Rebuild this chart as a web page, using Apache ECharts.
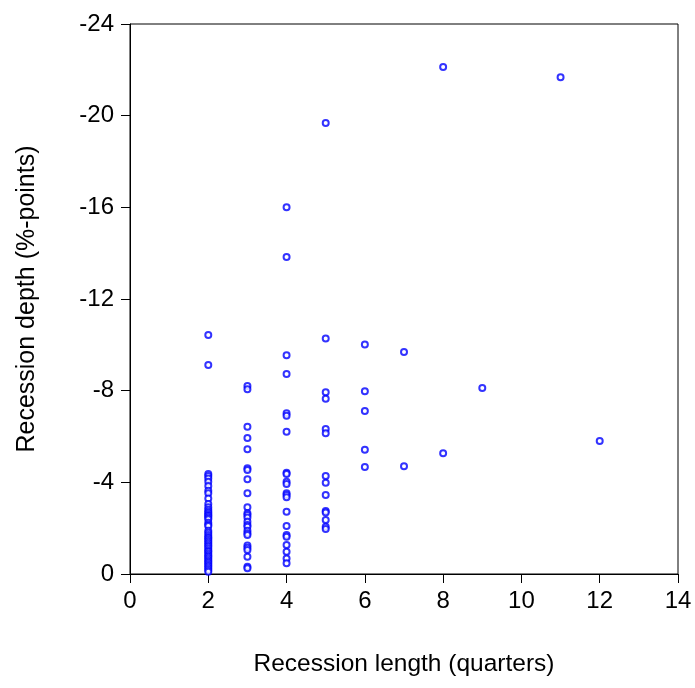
<!DOCTYPE html>
<html>
<head>
<meta charset="utf-8">
<script src="https://cdn.jsdelivr.net/npm/echarts@6/dist/echarts.min.js"></script>
<style>
  html, body { margin: 0; padding: 0; background: #fff; }
  #chart { width: 695px; height: 688px; }
</style>
</head>
<body>
<div id="chart"></div>
<script>
// recession length in quarters, and the depths observed for each length
var recessionLengths = [2, 3, 4, 5, 6, 7, 8, 9, 11, 12];
var depthsQ2 = [-10.43, -9.12, -4.36, -4.28, -4.17, -4.03, -3.84, -3.63, -3.52, -3.30, -3.05, -2.91, -2.80,
  -2.72, -2.65, -2.58, -2.53, -2.46, -2.39, -2.24, -2.15, -2.09, -1.89, -1.80, -1.70, -1.62, -1.56, -1.48,
  -1.41, -1.33, -1.25, -1.19, -1.10, -1.02, -0.97, -0.88, -0.81, -0.75, -0.68, -0.60, -0.54, -0.47, -0.39,
  -0.33, -0.25, -0.18, -0.10];
var depthsQ3 = [-8.20, -8.06, -6.43, -5.93, -5.44, -4.61, -4.54, -4.13, -3.52, -2.91, -2.65, -2.57, -2.47,
  -2.28, -2.14, -2.06, -1.89, -1.78, -1.70, -1.24, -1.15, -1.05, -0.75, -0.32, -0.25];
var depthsQ4 = [-16.0, -13.83, -9.55, -8.73, -7.01, -6.91, -6.21, -4.42, -4.36, -4.03, -3.93, -3.52, -3.45,
  -3.35, -2.72, -2.09, -1.70, -1.63, -1.27, -0.97, -0.68, -0.47];
var depthsQ5 = [-19.68, -10.28, -7.93, -7.65, -6.33, -6.14, -4.28, -3.98, -3.45, -2.75, -2.68, -2.36, -2.06, -1.96];
var depthsQ6 = [-10.02, -7.98, -7.11, -5.42, -4.67];
var depthsQ7 = [-9.69, -4.70];
var depthsQ8 = [-22.12, -5.27];
var depthsQ9 = [-8.12];
var depthsQ11 = [-21.68];
var depthsQ12 = [-5.80];
var depthsByLength = [depthsQ2, depthsQ3, depthsQ4, depthsQ5, depthsQ6, depthsQ7, depthsQ8, depthsQ9, depthsQ11, depthsQ12];

var points = [];
for (var i = 0; i < recessionLengths.length; i++) {
  for (var j = 0; j < depthsByLength[i].length; j++) {
    points.push([recessionLengths[i], depthsByLength[i][j]]);
  }
}

var font = 'Liberation Sans, Arial, sans-serif';

var option = {
  backgroundColor: '#fff',
  animation: false,
  grid: {
    left: 130, right: 17, top: 24, bottom: 114,
    show: true, borderColor: '#000', borderWidth: 1, backgroundColor: 'transparent'
  },
  xAxis: {
    type: 'value',
    min: 0, max: 14, interval: 2,
    name: 'Recession length (quarters)',
    nameLocation: 'middle',
    nameGap: 78,
    nameTextStyle: { fontFamily: font, fontSize: 24.5, color: '#000' },
    axisLine: { show: true, onZero: false, lineStyle: { color: '#000', width: 1 } },
    axisTick: { show: true, length: 9, lineStyle: { color: '#000' } },
    axisLabel: { fontFamily: font, fontSize: 24, color: '#000', margin: 15 },
    splitLine: { show: false }
  },
  yAxis: {
    type: 'value',
    min: -24, max: 0, interval: 4,
    inverse: true,
    name: 'Recession depth (%-points)',
    nameLocation: 'middle',
    nameGap: 90,
    nameTextStyle: { fontFamily: font, fontSize: 25, color: '#000' },
    axisLine: { show: true, onZero: false, lineStyle: { color: '#000', width: 1 } },
    axisTick: { show: true, length: 9, lineStyle: { color: '#000' } },
    axisLabel: { fontFamily: font, fontSize: 24, color: '#000', margin: 16, padding: [0, 0, 6, 0] },
    splitLine: { show: false }
  },
  series: [{
    type: 'scatter',
    data: points,
    symbol: 'emptyCircle',
    symbolSize: 6,
    itemStyle: { color: '#0000ff', borderColor: '#0000ff', borderWidth: 1 }
  }]
};

var myChart = echarts.init(document.getElementById('chart'));
myChart.setOption(option);
</script>
</body>
</html>
